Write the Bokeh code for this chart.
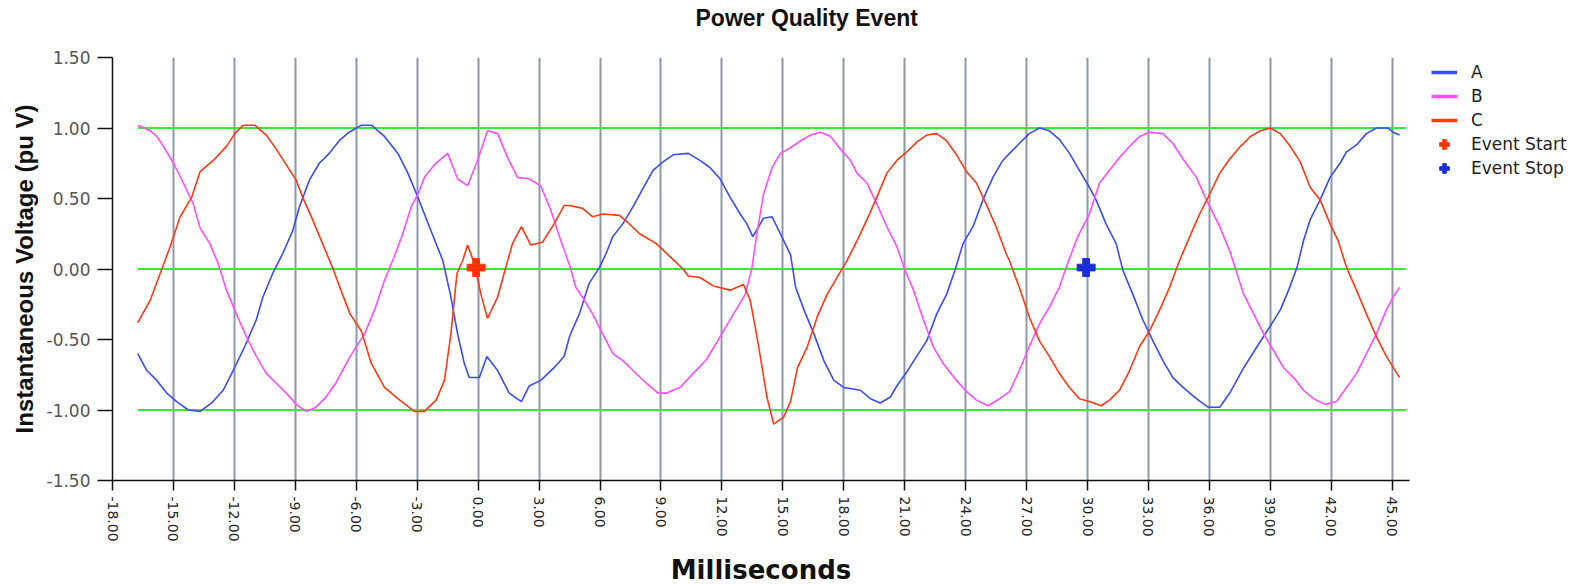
from bokeh.plotting import figure
from bokeh.models import FixedTicker, NumeralTickFormatter, Legend, LegendItem, Range1d, Title
from bokeh.embed import file_html
from bokeh.resources import INLINE

# ---------------- data ----------------
a_t = [-16.76, -16.31, -15.82, -15.33, -14.84, -14.27, -13.69, -13.12, -12.55, -12.06, -11.49, -10.92,
       -10.60, -10.11, -9.62, -9.13, -8.80, -8.31, -7.82, -7.33, -6.84, -6.35, -5.75, -5.26, -4.61,
       -3.95, -3.46, -2.97, -2.40, -1.74, -1.34, -1.01, -0.68, -0.44, 0.06, 0.43, 0.96, 1.53, 2.13,
       2.51, 3.08, 3.74, 4.23, 4.52, 4.98, 5.47, 5.97, 6.30, 6.63, 7.12, 7.62, 8.11, 8.61, 9.10, 9.60,
       10.34, 10.92, 11.41, 11.91, 12.40, 12.90, 13.23, 13.52, 13.89, 14.05, 14.47, 14.88, 15.38,
       15.63, 16.04, 16.53, 17.02, 17.51, 18.00, 18.82, 19.31, 19.79, 20.28, 20.61, 21.10, 21.59,
       22.08, 22.57, 23.06, 23.47, 23.87, 24.36, 24.85, 25.34, 25.83, 26.16, 26.64, 27.13, 27.63,
       28.12, 28.61, 29.11, 29.60, 30.09, 30.42, 30.91, 31.41, 31.74, 32.23, 32.72, 33.22, 33.71,
       34.20, 34.70, 35.36, 35.93, 36.51, 37.00, 37.69, 38.35, 38.84, 39.49, 39.90, 40.31, 40.63,
       40.96, 41.45, 41.94, 42.43, 42.75, 43.24, 43.73, 44.22, 44.79, 45.04, 45.36]
a_v = [-0.60, -0.72, -0.79, -0.88, -0.94, -1.00, -1.01, -0.95, -0.86, -0.72, -0.55, -0.36,
       -0.20, -0.03, 0.11, 0.27, 0.44, 0.63, 0.75, 0.82, 0.91, 0.97, 1.02, 1.02, 0.94,
       0.82, 0.68, 0.51, 0.30, 0.06, -0.20, -0.46, -0.67, -0.77, -0.77, -0.62, -0.72, -0.88, -0.94,
       -0.83, -0.79, -0.70, -0.62, -0.47, -0.32, -0.10, 0.01, 0.11, 0.23, 0.32, 0.44, 0.57, 0.70, 0.76, 0.81,
       0.82, 0.77, 0.72, 0.64, 0.51, 0.39, 0.32, 0.23, 0.32, 0.36, 0.37, 0.25, 0.10,
       -0.13, -0.29, -0.46, -0.65, -0.79, -0.84, -0.86, -0.92, -0.95, -0.91, -0.83, -0.73, -0.62,
       -0.51, -0.32, -0.18, -0.01, 0.18, 0.30, 0.49, 0.65, 0.77, 0.82, 0.89, 0.96, 1.00,
       0.98, 0.92, 0.82, 0.70, 0.58, 0.49, 0.32, 0.18, -0.01, -0.18, -0.36, -0.51, -0.65,
       -0.77, -0.84, -0.92, -0.98, -0.98, -0.88, -0.70, -0.55, -0.44, -0.29, -0.15, 0.01, 0.20,
       0.35, 0.49, 0.65, 0.75, 0.83, 0.88, 0.96, 1.00, 1.00, 0.97, 0.95]

b_t = [-16.76, -16.14, -15.82, -15.49, -15.00, -14.51, -14.02, -13.69, -13.21, -12.80, -12.39, -11.90,
       -11.41, -10.92, -10.43, -9.94, -9.45, -8.96, -8.47, -7.99, -7.50, -7.01, -6.60, -6.30, -5.59,
       -5.10, -4.61, -4.12, -3.71, -3.30, -2.97, -2.64, -2.15, -1.50, -1.01, -0.52, -0.03, 0.46, 0.96,
       1.45, 1.94, 2.51, 3.08, 3.57, 4.07, 4.52, 4.81, 5.22, 5.64, 6.13, 6.63, 7.12, 7.62, 8.28, 8.85,
       9.27, 9.93, 10.59, 11.25, 11.91, 12.57, 13.15, 13.48, 13.72, 14.05, 14.47, 14.88, 15.38, 15.88,
       16.37, 16.86, 17.35, 17.84, 18.33, 18.65, 19.14, 19.63, 20.12, 20.61, 21.02, 21.43, 21.92,
       22.40, 22.89, 23.55, 24.04, 24.53, 25.10, 25.67, 26.16, 26.64, 27.13, 27.63, 28.12, 28.61,
       29.02, 29.52, 30.09, 30.59, 31.08, 31.57, 32.07, 32.56, 33.05, 33.71, 34.20, 34.70, 35.36,
       35.85, 36.51, 37.02, 37.69, 38.18, 38.67, 39.16, 39.65, 40.14, 40.63, 41.12, 41.69, 42.26,
       42.75, 43.24, 43.73, 44.22, 44.71, 45.04, 45.36]
b_v = [1.02, 0.98, 0.94, 0.87, 0.75, 0.61, 0.46, 0.29, 0.18, 0.04, -0.15, -0.32,
       -0.48, -0.62, -0.74, -0.81, -0.88, -0.96, -1.01, -0.98, -0.91, -0.81, -0.70, -0.62, -0.46,
       -0.29, -0.08, 0.09, 0.25, 0.44, 0.53, 0.65, 0.74, 0.82, 0.64, 0.59, 0.77, 0.98, 0.96,
       0.79, 0.65, 0.64, 0.59, 0.42, 0.20, 0.02, -0.13, -0.22, -0.32, -0.46, -0.60, -0.65, -0.72, -0.81, -0.88,
       -0.88, -0.84, -0.74, -0.64, -0.48, -0.32, -0.18, 0.01, 0.25, 0.53, 0.72, 0.82, 0.86, 0.91,
       0.95, 0.97, 0.94, 0.85, 0.77, 0.68, 0.61, 0.46, 0.30, 0.16, -0.01, -0.15, -0.36,
       -0.55, -0.67, -0.79, -0.87, -0.93, -0.97, -0.92, -0.87, -0.72, -0.55, -0.39, -0.27, -0.13,
       0.04, 0.23, 0.39, 0.61, 0.70, 0.79, 0.87, 0.94, 0.97, 0.96, 0.89, 0.78, 0.65,
       0.49, 0.30, 0.12, -0.18, -0.32, -0.46, -0.58, -0.70, -0.77, -0.86, -0.92, -0.96, -0.94,
       -0.84, -0.74, -0.60, -0.46, -0.29, -0.20, -0.13]

c_t = [-16.76, -16.14, -15.65, -15.16, -14.67, -14.10, -13.69, -13.04, -12.39, -11.98, -11.57, -11.00,
       -10.43, -9.94, -9.45, -8.96, -8.64, -8.15, -7.66, -7.17, -6.68, -6.30, -5.75, -5.26, -4.61,
       -3.95, -3.14, -2.64, -2.07, -1.66, -1.34, -1.04, -0.76, -0.52, -0.19, 0.14, 0.46, 0.96, 1.28,
       1.69, 2.13, 2.59, 3.17, 3.74, 4.23, 4.52, 5.14, 5.64, 6.13, 6.96, 7.37, 7.95, 8.77, 9.43,
       10.09, 10.34, 10.92, 11.58, 12.40, 13.06, 13.39, 13.64, 13.89, 14.22, 14.55, 15.04, 15.38,
       15.72, 16.21, 16.69, 17.18, 17.67, 18.16, 18.65, 19.14, 19.63, 20.12, 20.61, 21.10, 21.59,
       22.08, 22.57, 23.06, 23.55, 24.04, 24.53, 25.01, 25.50, 25.99, 26.15, 26.64, 27.13, 27.63,
       28.12, 28.61, 29.11, 29.60, 30.09, 30.67, 31.08, 31.57, 32.07, 32.56, 33.05, 33.55, 34.04,
       34.53, 35.03, 35.52, 36.01, 36.51, 37.00, 37.53, 38.02, 38.51, 39.00, 39.49, 39.98, 40.47,
       40.96, 41.45, 41.94, 42.34, 42.75, 43.24, 43.73, 44.22, 44.71, 45.36]
c_v = [-0.38, -0.22, -0.03, 0.16, 0.37, 0.51, 0.69, 0.77, 0.87, 0.96, 1.02, 1.02,
       0.95, 0.85, 0.74, 0.63, 0.51, 0.35, 0.18, 0.01, -0.18, -0.32, -0.44, -0.67, -0.84,
       -0.92, -1.01, -1.01, -0.93, -0.79, -0.46, -0.03, 0.06, 0.17, 0.04, -0.18, -0.35, -0.20, -0.03,
       0.18, 0.30, 0.17, 0.19, 0.32, 0.45, 0.45, 0.43, 0.37, 0.39, 0.38, 0.33, 0.25, 0.18, 0.09,
       0.00, -0.05, -0.06, -0.12, -0.15, -0.11, -0.22, -0.41, -0.62, -0.91, -1.10, -1.05, -0.94,
       -0.70, -0.55, -0.34, -0.18, -0.06, 0.06, 0.20, 0.35, 0.51, 0.68, 0.77, 0.83, 0.90,
       0.95, 0.96, 0.91, 0.81, 0.69, 0.61, 0.46, 0.30, 0.11, 0.06, -0.13, -0.34, -0.51,
       -0.62, -0.74, -0.84, -0.92, -0.94, -0.97, -0.93, -0.86, -0.72, -0.55, -0.44, -0.29, -0.13,
       0.06, 0.23, 0.39, 0.53, 0.68, 0.78, 0.87, 0.94, 0.98, 1.00, 0.96, 0.87, 0.76,
       0.58, 0.49, 0.32, 0.20, 0.01, -0.15, -0.32, -0.48, -0.62, -0.77]

event_start_t = [-0.10]
event_start_v = [0.01]
event_stop_t = [29.93]
event_stop_v = [0.01]

ref_levels = [-1.0, 0.0, 1.0]
ref_start = -16.76
ref_end = 45.69

x_ticks = [-18, -15, -12, -9, -6, -3, 0, 3, 6, 9, 12, 15, 18, 21, 24, 27, 30, 33, 36, 39, 42, 45]
y_ticks = [-1.5, -1.0, -0.5, 0.0, 0.5, 1.0, 1.5]

series_labels = ["A", "B", "C"]
colors = ["#3a4cf7", "#ff4dff", "#ff3814"]

# ---------------- figure ----------------
p = figure(output_backend="svg", toolbar_location=None,
           frame_width=1297, frame_height=423,
           min_border_left=112, min_border_right=184, min_border_top=57, min_border_bottom=105,
           x_range=Range1d(-18, 45.85), y_range=Range1d(-1.5, 1.5),
           title=None)
p.outline_line_color = None
p.background_fill_color = "white"
p.border_fill_color = "white"

# white (invisible on white) spacer nearest the frame, then the real title above it
spacer = Title(text=".", text_font_size="2px", text_color="white", standoff=22)
p.add_layout(spacer, "above")
main_title = Title(text="Power Quality Event", text_font="Liberation Sans", text_font_size="23px",
                   text_font_style="bold", text_color="#111111", align="left", offset=583, standoff=4)
p.add_layout(main_title, "above")

# axes
p.xaxis.ticker = FixedTicker(ticks=x_ticks)
p.yaxis.ticker = FixedTicker(ticks=y_ticks)
p.xaxis.formatter = NumeralTickFormatter(format="0.00")
p.yaxis.formatter = NumeralTickFormatter(format="0.00")
for ax in (p.xaxis, p.yaxis):
    ax.axis_line_color = "#111111"
    ax.axis_line_width = 1.5
    ax.major_tick_line_color = "#111111"
    ax.major_tick_line_width = 1.5
    ax.minor_tick_line_color = None
    ax.major_tick_in = 0
    ax.major_label_text_font = "DejaVu Sans"
    ax.major_label_text_color = "#444444"
    ax.axis_label_text_font_style = "bold"
    ax.axis_label_text_color = "#111111"

p.yaxis.major_tick_out = 15
p.yaxis.major_label_text_font_size = "17px"
p.yaxis.major_label_text_color = "#555555"
p.yaxis.major_label_standoff = 7
p.yaxis.axis_label = "Instantaneous Voltage (pu V)"
p.yaxis.axis_label_text_font = "Liberation Sans"
p.yaxis.axis_label_text_font_size = "24px"
p.yaxis.axis_label_standoff = 6

p.xaxis.major_tick_out = 10
p.xaxis.major_label_orientation = "vertical"
p.xaxis.major_label_text_font_size = "14px"
p.xaxis.major_label_text_color = "#222222"
p.xaxis.major_label_standoff = 6
p.xaxis.axis_label = "Milliseconds"
p.xaxis.axis_label_text_font = "DejaVu Sans"
p.xaxis.axis_label_text_font_size = "26px"
p.xaxis.axis_label_standoff = 10

# grids
p.ygrid.grid_line_color = None
p.xgrid.grid_line_color = "#8d99a6"
p.xgrid.grid_line_width = 2

# green reference lines
p.segment(x0=[ref_start] * len(ref_levels), x1=[ref_end] * len(ref_levels),
          y0=ref_levels, y1=ref_levels, line_color="#33ee33", line_width=2)

# waveforms
for t, v, col in ((a_t, a_v, colors[0]), (b_t, b_v, colors[1]), (c_t, c_v, colors[2])):
    p.line(t, v, line_color=col, line_width=1.6)

p.scatter(event_start_t, event_start_v, marker="plus", size=18, color="#ff3300")
p.scatter(event_stop_t, event_stop_v, marker="plus", size=18, color="#1a2ed8")

# legend proxies (one invisible NaN point each, so the legend glyph has style)
nan = float("nan")
leg_a = p.line([nan], [nan], line_color=colors[0], line_width=3.5)
leg_b = p.line([nan], [nan], line_color=colors[1], line_width=3.5)
leg_c = p.line([nan], [nan], line_color=colors[2], line_width=3.5)
leg_s = p.scatter([nan], [nan], marker="plus", size=11, color="#ff3300")
leg_e = p.scatter([nan], [nan], marker="plus", size=11, color="#1a2ed8")

legend = Legend(items=[LegendItem(label=series_labels[0], renderers=[leg_a], index=0),
                       LegendItem(label=series_labels[1], renderers=[leg_b], index=0),
                       LegendItem(label=series_labels[2], renderers=[leg_c], index=0),
                       LegendItem(label="Event Start", renderers=[leg_s], index=0),
                       LegendItem(label="Event Stop", renderers=[leg_e], index=0)],
                location=(22, 300))
legend.border_line_color = None
legend.background_fill_alpha = 0
legend.padding = 0
legend.margin = 0
legend.spacing = 0
legend.glyph_width = 26
legend.glyph_height = 24
legend.label_height = 24
legend.label_standoff = 14
legend.label_text_font = "DejaVu Sans"
legend.label_text_font_size = "17px"
legend.label_text_color = "#222222"
p.add_layout(legend, "right")

open("out.html", "w").write(file_html(p, INLINE))
